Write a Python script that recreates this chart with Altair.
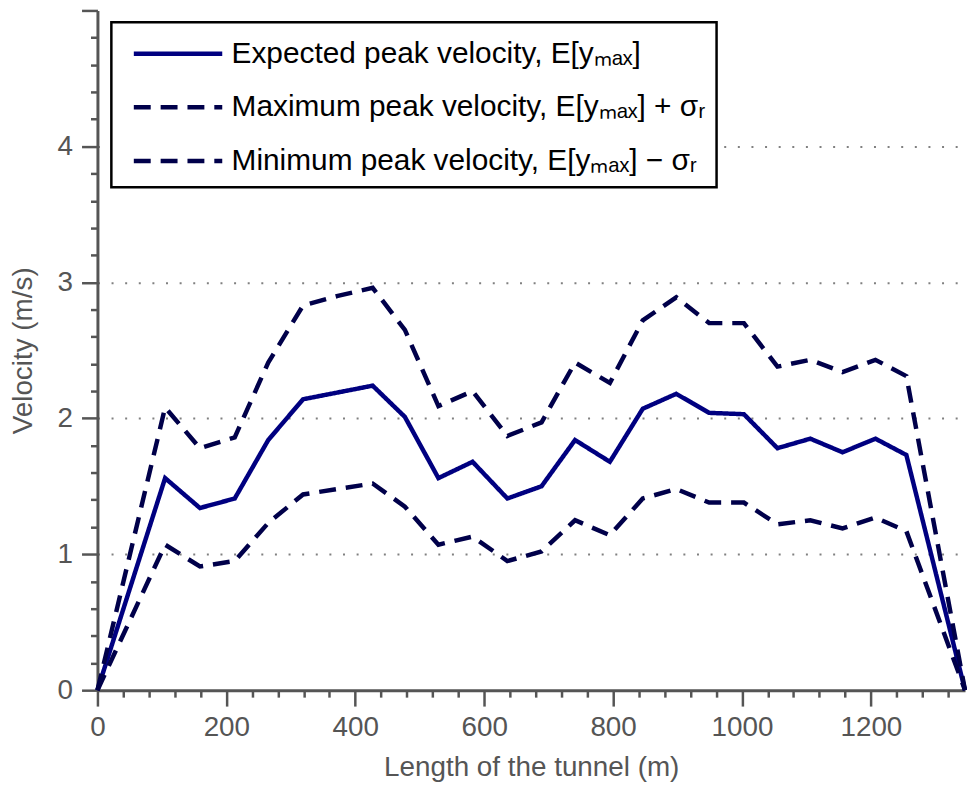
import altair as alt
import pandas as pd

# Positions along the tunnel (m)
x_vals = [0, 105, 159, 213, 265, 319, 373, 427, 477, 529, 582, 636, 689, 741,
          795, 846, 898, 949, 1003, 1055, 1106, 1156, 1207, 1255, 1346]
# Expected peak velocity E[y_max] (m/s)
expected = [0, 1.56, 1.34, 1.41, 1.84, 2.14, 2.19, 2.24, 2.01, 1.56, 1.68, 1.41, 1.50,
            1.84, 1.68, 2.07, 2.18, 2.04, 2.03, 1.78, 1.85, 1.75, 1.85, 1.73, 0]
# E[y_max] + sigma_r
upper = [0, 2.08, 1.78, 1.86, 2.41, 2.83, 2.90, 2.96, 2.65, 2.09, 2.20, 1.87, 1.97,
         2.41, 2.26, 2.72, 2.89, 2.70, 2.70, 2.38, 2.43, 2.34, 2.43, 2.31, 0]
# E[y_max] - sigma_r
lower = [0, 1.07, 0.91, 0.95, 1.23, 1.44, 1.48, 1.52, 1.35, 1.07, 1.13, 0.95, 1.02,
         1.25, 1.14, 1.41, 1.48, 1.38, 1.38, 1.22, 1.25, 1.19, 1.27, 1.17, 0]

names = ["Expected peak velocity, E[y\u2098\u2090\u2093]",
         "Maximum peak velocity, E[y\u2098\u2090\u2093] + \u03c3\u1d63",
         "Minimum peak velocity, E[y\u2098\u2090\u2093] \u2212 \u03c3\u1d63"]
colors = ["#000080", "#00004a", "#00004a"]
dashes = [[1, 0], [17, 10], [17, 10]]

x_ticks = list(range(0, 1321, 40))
y_ticks = [0, 0.2, 0.4, 0.6, 0.8, 1, 1.2, 1.4, 1.6, 1.8, 2, 2.2, 2.4, 2.6, 2.8, 3,
           3.2, 3.4, 3.6, 3.8, 4, 4.2, 4.4, 4.6, 4.8, 5]

rows = []
for name, series in zip(names, [expected, upper, lower]):
    for xv, yv in zip(x_vals, series):
        rows.append({"x": xv, "y": yv, "series": name})
df = pd.DataFrame(rows)

FONT = "Liberation Sans"
GRAY = "#555555"

chart = alt.Chart(df).mark_line(strokeWidth=4.5).encode(
    x=alt.X("x:Q", scale=alt.Scale(domain=[0, 1346], nice=False, zero=False),
            axis=alt.Axis(
                title="Length of the tunnel (m)",
                values=x_ticks,
                tickSize={"condition": {"test": "datum.value % 200 === 0", "value": 16}, "value": 7},
                labelExpr="datum.value % 200 === 0 ? format(datum.value, 'd') : ''",
                labelOverlap=False, labelFlush=False,
                grid=False, labelPadding=8, titlePadding=12)),
    y=alt.Y("y:Q", scale=alt.Scale(domain=[0, 5], nice=False),
            axis=alt.Axis(
                title="Velocity (m/s)",
                values=y_ticks,
                tickSize={"condition": {"test": "datum.value % 1 === 0", "value": 16}, "value": 7},
                labelExpr="datum.value % 1 === 0 && datum.value < 5 ? format(datum.value, 'd') : ''",
                gridOpacity={"condition": {"test": "datum.value % 1 === 0 && datum.value > 0 && datum.value < 5", "value": 1}, "value": 0},
                labelOverlap=False, labelFlush=False,
                grid=True, labelPadding=9, titlePadding=20)),
    color=alt.Color("series:N", scale=alt.Scale(domain=names, range=colors),
                    legend=alt.Legend(title=None)),
    strokeDash=alt.StrokeDash("series:N", scale=alt.Scale(domain=names, range=dashes),
                              legend=alt.Legend(title=None)),
).properties(
    width=873, height=684,
    autosize=alt.AutoSizeParams(type="none"),
    padding={"left": 90, "top": 0, "right": 2, "bottom": 100},
).configure_view(
    stroke=None
).configure_axis(
    domainColor=GRAY, domainWidth=3, tickColor=GRAY, tickWidth=2.5,
    labelFont=FONT, labelFontSize=28, labelColor=GRAY,
    titleFont=FONT, titleFontSize=28, titleColor=GRAY, titleFontWeight="normal",
    gridColor="#808080", gridDash=[2, 11.7], gridWidth=2,
).configure_legend(
    orient="none", legendX=14, legendY=12,
    fillColor="white", strokeColor="black", strokeWidth=2.5, padding=11,
    labelFont=FONT, labelFontSize=30, labelColor="black", labelOffset=69,
    symbolType="M-0.5,0H4.5", symbolSize=1267, symbolStrokeWidth=4.5,
    rowPadding=18, labelLimit=800,
)

chart.save("out.html", embed_options={"renderer": "svg", "actions": False})
